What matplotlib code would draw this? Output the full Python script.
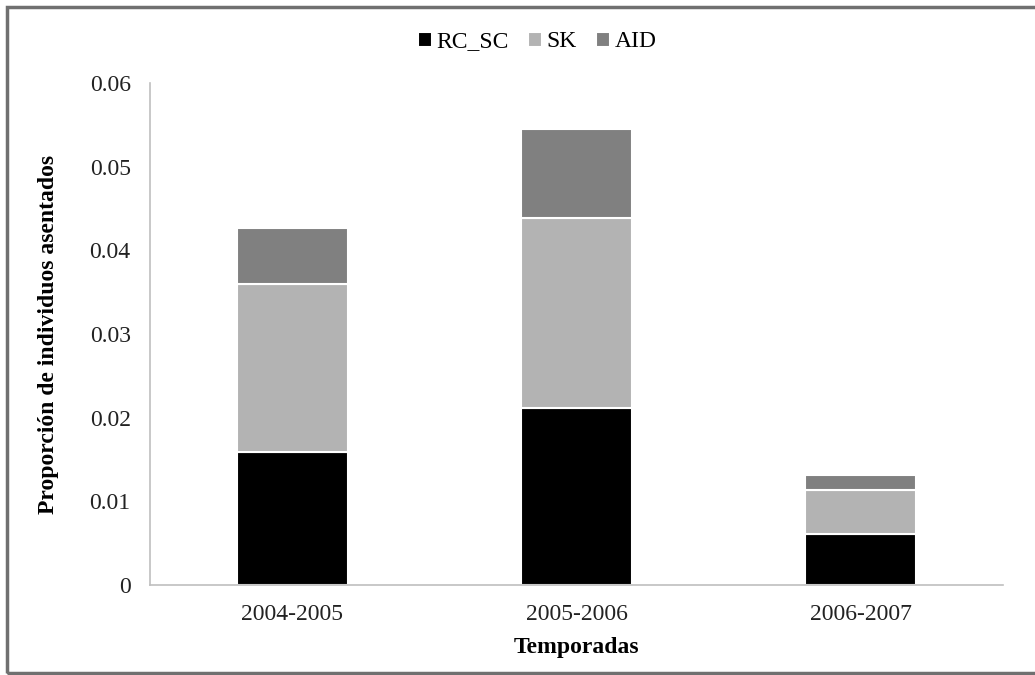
import matplotlib
matplotlib.use("Agg")
import matplotlib.pyplot as plt
from matplotlib.patches import Rectangle
import numpy as np

# Temporadas y proporción de individuos asentados por tipo
temporadas = ["2004-2005", "2005-2006", "2006-2007"]
rc_sc = [0.0159, 0.0212, 0.0061]
sk = [0.0201, 0.0227, 0.0053]
aid = [0.0067, 0.0106, 0.0017]

series = [("RC_SC", rc_sc, "#000000"),
          ("SK", sk, "#b3b3b3"),
          ("AID", aid, "#808080")]

plt.rcParams["font.family"] = ["Liberation Serif", "DejaVu Serif"]
FS = 17

fig = plt.figure(figsize=(10.35, 6.75), dpi=100)
ax = fig.add_axes([0.145, 0.1333, 0.824, 0.7437])

x = np.arange(len(temporadas))
bottom = np.zeros(len(temporadas))
handles = []
for name, vals, color in series:
    b = ax.bar(x, vals, width=0.39, bottom=bottom, color=color,
               edgecolor="white", linewidth=1.5, label=name)
    handles.append(b)
    bottom += np.array(vals)

ax.set_xlim(-0.5, len(temporadas) - 0.5)
ax.set_ylim(0, 0.06)
ax.set_yticks([0, 0.01, 0.02, 0.03, 0.04, 0.05, 0.06])
ax.set_yticklabels(["0", "0.01", "0.02", "0.03", "0.04", "0.05", "0.06"])
ax.set_xticks(x)
ax.set_xticklabels(temporadas)
ax.tick_params(axis="both", length=0, labelsize=FS, colors="#222222")
ax.tick_params(axis="y", pad=14)
ax.tick_params(axis="x", pad=14)

for side in ["top", "right"]:
    ax.spines[side].set_visible(False)
for side in ["left", "bottom"]:
    ax.spines[side].set_color("#bfbfbf")
    ax.spines[side].set_linewidth(1.2)

ax.set_xlabel("Temporadas", fontsize=FS, fontweight="bold", labelpad=8)
ax.set_ylabel("Proporción de individuos asentados", fontsize=FS,
              fontweight="bold", labelpad=22)

fig.legend(handles=handles, labels=[s[0] for s in series], loc="center",
           bbox_to_anchor=(0.519, 0.938), ncol=3, frameon=False,
           fontsize=FS, handlelength=0.6, handleheight=0.6,
           handletextpad=0.2, columnspacing=0.8)

# marco gris alrededor de la figura
fig.patches.append(Rectangle((7 / 1035, 2 / 675), 1.1, 666 / 675,
                             transform=fig.transFigure, fill=False,
                             edgecolor="#707070", linewidth=2.5))

fig.savefig("out.png", dpi=100, facecolor="white")
